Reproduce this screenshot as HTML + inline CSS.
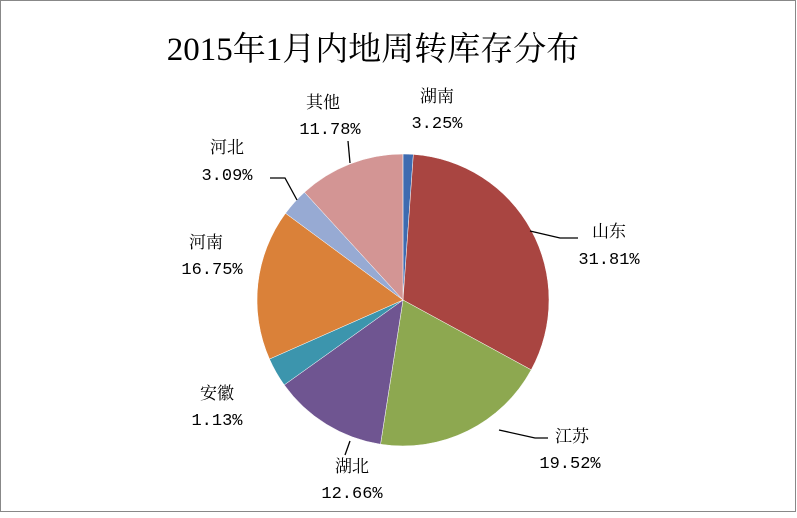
<!DOCTYPE html>
<html><head><meta charset="utf-8"><style>
body{margin:0;background:#fff}
svg text{font-family:"Liberation Mono","Noto Serif CJK SC",monospace;fill:#000}
.l{font-size:17px;text-anchor:middle}
</style></head><body>
<svg width="797" height="513" viewBox="0 0 797 513" xmlns="http://www.w3.org/2000/svg">
<rect x="0.5" y="0.5" width="795" height="511" fill="#fff" stroke="#888"/>
<text x="373" y="60" font-size="33" text-anchor="middle" style="font-family:'Liberation Serif','Noto Serif CJK SC',serif">2015年1月内地周转库存分布</text>
<g id="pie" stroke="#fff" stroke-width="0.5"></g>
<g stroke="#000" stroke-width="1.3" fill="none">
<polyline points="530,231 560,238 578,238"/>
<polyline points="499,430 535,438 548,438"/>
<polyline points="350,441 345,455"/>
<polyline points="270,178 285,178 297,200"/>
<polyline points="348,141 350,163"/>
</g>
<text class="l" x="609" y="237">山东</text><text class="l" x="609" y="264">31.81%</text>
<text class="l" x="572" y="442">江苏</text><text class="l" x="570" y="468">19.52%</text>
<text class="l" x="352" y="472">湖北</text><text class="l" x="352" y="498">12.66%</text>
<text class="l" x="217" y="399">安徽</text><text class="l" x="217" y="425">1.13%</text>
<text class="l" x="206" y="248">河南</text><text class="l" x="212" y="274">16.75%</text>
<text class="l" x="227" y="153">河北</text><text class="l" x="227" y="180">3.09%</text>
<text class="l" x="323" y="108">其他</text><text class="l" x="330" y="134">11.78%</text>
<text class="l" x="437" y="102">湖南</text><text class="l" x="437" y="128">3.25%</text>
</svg>
<script>
var d=[[1.13,"#3E6BB0"],[31.81,"#A94541"],[19.52,"#8DA850"],[12.66,"#6F5591"],[3.25,"#3C95AD"],[16.75,"#DA8139"],[3.09,"#97AAD3"],[11.78,"#D39594"]];
var cx=403,cy=300,r=146,a=0,g=document.getElementById("pie"),s="";
d.forEach(function(e){var b=a+e[0]/100*2*Math.PI;
var x1=cx+r*Math.sin(a),y1=cy-r*Math.cos(a),x2=cx+r*Math.sin(b),y2=cy-r*Math.cos(b);
s+='<path d="M'+cx+','+cy+'L'+x1+','+y1+'A'+r+','+r+' 0 '+((b-a)>Math.PI?1:0)+' 1 '+x2+','+y2+'Z" fill="'+e[1]+'"/>';a=b;});
g.innerHTML=s;
</script>
</body></html>
